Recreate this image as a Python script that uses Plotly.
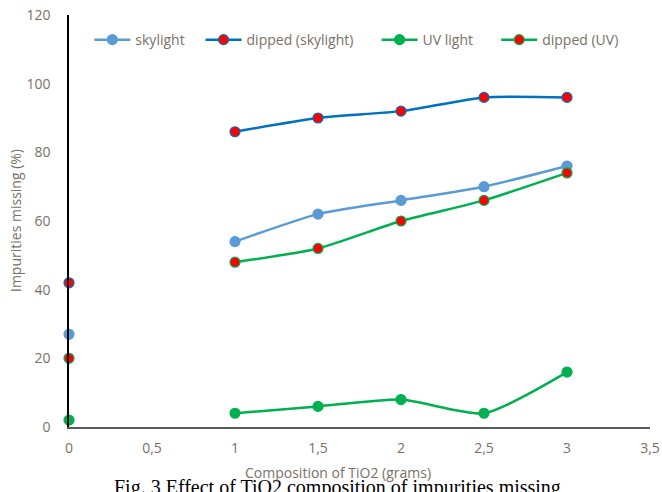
import plotly.graph_objects as go

x_vals = [0, 0.5, 1, 1.5, 2, 2.5, 3]
skylight = [27, None, 54, 62, 66, 70, 76]
dipped_skylight = [42, None, 86, 90, 92, 96, 96]
uv_light = [2, None, 4, 6, 8, 4, 16]
dipped_uv = [20, None, 48, 52, 60, 66, 74]

x_tickvals = [0, 0.5, 1, 1.5, 2, 2.5, 3, 3.5]
x_ticktext = ["0", "0,5", "1", "1,5", "2", "2,5", "3", "3,5"]
y_tickvals = [0, 20, 40, 60, 80, 100, 120]

FONT = "Open Sans"
TXT = "#7a6f66"
NB = "\u00a0"

series = [
    ("skylight", skylight, "#5B9BD5", "#5B9BD5", 3),
    ("dipped (skylight)", dipped_skylight, "#0070C0", "#FF0000", 5),
    ("UV light", uv_light, "#00B050", "#00B050", 5),
    ("dipped (UV)", dipped_uv, "#00B050", "#FF0000", 0),
]

fig = go.Figure()
for name, vals, lc, mc, pad in series:
    fig.add_trace(go.Scatter(
        x=x_vals, y=vals, name=name + NB * pad, mode="lines+markers",
        line=dict(color=lc, width=2.5, shape="spline", smoothing=0.6),
        marker=dict(color=mc, size=10, line=dict(color=lc, width=1.2)),
        cliponaxis=False,
    ))

L, R, T, B, W, H = 69, 12, 15, 65, 662, 492
PW, PH = W - L - R, H - T - B

fig.update_layout(
    width=W, height=H,
    margin=dict(l=L, r=R, t=T, b=B, autoexpand=False),
    paper_bgcolor="white", plot_bgcolor="white",
    font=dict(family=FONT, size=13, color=TXT),
    legend=dict(orientation="h", x=0.035, y=0.978, xanchor="left", yanchor="top",
                font=dict(size=14, color=TXT), itemwidth=36, bgcolor="rgba(0,0,0,0)"),
    showlegend=True,
)
fig.update_xaxes(
    range=[0, 3.5], tickvals=x_tickvals, ticktext=x_ticktext, automargin=False,
    showgrid=False, zeroline=False, showline=True, linecolor="#595959", linewidth=1.5,
    ticks="", ticklabelstandoff=7, tickfont=dict(size=14), ticklabeloverflow="allow",
)
fig.update_yaxes(
    range=[0, 120], tickvals=y_tickvals, automargin=False,
    showgrid=False, zeroline=False, showline=True, linecolor="black", linewidth=1.5,
    ticks="", ticklabelstandoff=14, tickfont=dict(size=14), ticklabeloverflow="allow",
)
# caption first so the axis title is drawn over it, as in the reference
fig.add_annotation(
    text="Fig. 3 Effect of TiO2 composition of impurities missing",
    xref="paper", yref="paper", x=(337 - L) / PW, y=-(474 - (H - B)) / PH,
    xanchor="center", yanchor="top",
    showarrow=False, font=dict(family="Liberation Serif", size=20, color="black"),
)
fig.add_annotation(
    text="Composition of TiO2 (grams)", xref="paper", yref="paper",
    x=(338 - L) / PW, y=-(472 - (H - B)) / PH, xanchor="center", yanchor="middle",
    showarrow=False, font=dict(size=14, color=TXT),
)
fig.add_annotation(
    text="Impurities missing (%)", xref="paper", yref="paper", textangle=-90,
    x=-(L - 15) / PW, y=0.5, xanchor="center", yanchor="middle",
    showarrow=False, font=dict(size=14, color=TXT),
)

fig.write_html("out.html", config={"displayModeBar": False},
               post_script="document.body.style.margin='0';")
